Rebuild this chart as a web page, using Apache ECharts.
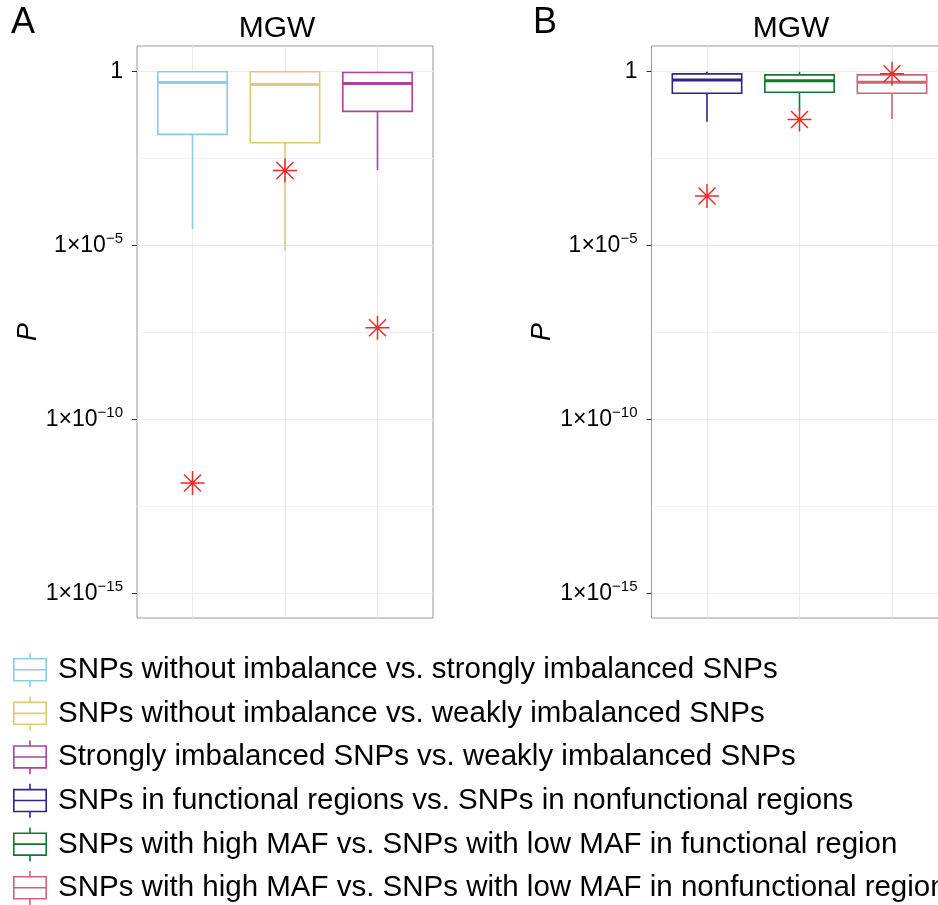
<!DOCTYPE html>
<html>
<head>
<meta charset="utf-8">
<script src="https://cdn.jsdelivr.net/npm/echarts@6/dist/echarts.min.js"></script>
<style>
html,body{margin:0;padding:0;background:#fff;}
#chart{width:938px;height:905px;}
</style>
</head>
<body>
<div id="chart"></div>
<script>
// ---- data (values are log10(P)) ----
const seriesNames = [
  'SNPs without imbalance vs. strongly imbalanced SNPs',
  'SNPs without imbalance vs. weakly imbalanced SNPs',
  'Strongly imbalanced SNPs vs. weakly imbalanced SNPs',
  'SNPs in functional regions vs. SNPs in nonfunctional regions',
  'SNPs with high MAF vs. SNPs with low MAF in functional region',
  'SNPs with high MAF vs. SNPs with low MAF in nonfunctional region'
];
const seriesColors = ['#88CCEE', '#DDCC77', '#AA4499', '#332288', '#117733', '#CC6677'];
const xPositions = [1, 2, 3];

// Panel A
const lowerWhiskerA = [-4.52, -5.14, -2.83];
const q1A = [-1.80, -2.04, -1.14];
const medianA = [-0.31, -0.37, -0.34];
const q3A = [0, 0, -0.02];
const upperWhiskerA = [0, 0, 0];
const starsA = [-11.82, -2.84, -7.36];

// Panel B
const lowerWhiskerB = [-1.44, -1.11, -1.36];
const q1B = [-0.62, -0.59, -0.62];
const medianB = [-0.24, -0.26, -0.30];
const q3B = [-0.06, -0.09, -0.09];
const upperWhiskerB = [0, 0, -0.02];
const starsB = [-3.57, -1.37, -0.06];

const tickValues = [0, -5, -10, -15];
const minorTickValues = [-2.5, -7.5, -12.5];
const panelTitles = ['MGW', 'MGW'];
const panelLetters = ['A', 'B'];

// ---- layout / style ----
const FONT = 'Liberation Sans, Arial, Helvetica, sans-serif';
const yMin = -15.70, yMax = 0.74;
const boxWidthUnits = 0.75;
const grids = [
  {left: 137, top: 46, width: 296, height: 572},
  {left: 651.5, top: 46, width: 296, height: 572}
];

function fmtTick(v) {
  if (v === 0) return '{a|1}';
  return '{a|1×10}{b|\u2212' + Math.abs(v) + '}';
}

function renderBox(params, api) {
  const x = api.value(0);
  const wl = api.coord([x, api.value(1)]);
  const q1 = api.coord([x, api.value(2)]);
  const md = api.coord([x, api.value(3)]);
  const q3 = api.coord([x, api.value(4)]);
  const wh = api.coord([x, api.value(5)]);
  const hw = api.size([boxWidthUnits, 0])[0] / 2;
  const color = api.visual('color');
  const lw = 1.6;
  return {
    type: 'group',
    children: [
      {type: 'line', shape: {x1: wl[0], y1: wl[1], x2: q1[0], y2: q1[1]}, style: {stroke: color, lineWidth: lw}},
      {type: 'line', shape: {x1: q3[0], y1: q3[1], x2: wh[0], y2: wh[1]}, style: {stroke: color, lineWidth: lw}},
      {type: 'rect', shape: {x: q1[0] - hw, y: q3[1], width: 2 * hw, height: q1[1] - q3[1]},
        style: {fill: '#ffffff', stroke: color, lineWidth: lw}},
      {type: 'line', shape: {x1: md[0] - hw, y1: md[1], x2: md[0] + hw, y2: md[1]}, style: {stroke: color, lineWidth: 3}}
    ]
  };
}

// legend glyph: box with median and whiskers, as filled thin strokes
const t = 1.6;
const boxIcon = 'path://' +
  'M0,5 L34,5 L34,28.5 L0,28.5 Z ' +
  'M' + t + ',' + (5 + t) + ' L' + t + ',' + (16.75 - t / 2) + ' L' + (34 - t) + ',' + (16.75 - t / 2) + ' L' + (34 - t) + ',' + (5 + t) + ' Z ' +
  'M' + t + ',' + (16.75 + t / 2) + ' L' + t + ',' + (28.5 - t) + ' L' + (34 - t) + ',' + (28.5 - t) + ' L' + (34 - t) + ',' + (16.75 + t / 2) + ' Z ' +
  'M' + (17 - t / 2) + ',0 L' + (17 + t / 2) + ',0 L' + (17 + t / 2) + ',5 L' + (17 - t / 2) + ',5 Z ' +
  'M' + (17 - t / 2) + ',28.5 L' + (17 + t / 2) + ',28.5 L' + (17 + t / 2) + ',34 L' + (17 - t / 2) + ',34 Z';

const starPath = 'path://M12,0 L12,24 M0,12 L24,12 M3.5,3.5 L20.5,20.5 M3.5,20.5 L20.5,3.5';

const xAxes = [], yAxes = [];
grids.forEach(function (g, gi) {
  xAxes.push({
    type: 'value', gridIndex: gi, min: 0.4, max: 3.6,
    axisLine: {show: false},
    axisTick: {show: false, customValues: xPositions},
    axisLabel: {show: false},
    splitLine: {show: true, lineStyle: {color: '#EBEBEB', width: 1}}
  });
  yAxes.push({
    type: 'value', gridIndex: gi, min: yMin, max: yMax, position: 'left',
    name: 'P', nameLocation: 'middle', nameGap: 93,
    nameTextStyle: {fontFamily: FONT, fontSize: 27, fontStyle: 'italic', color: '#000'},
    axisLine: {show: false},
    axisTick: {show: true, inside: false, length: 5, customValues: tickValues, lineStyle: {color: '#333', width: 1}},
    axisLabel: {
      show: true, margin: 14, customValues: tickValues, formatter: fmtTick,
      rich: {
        a: {fontFamily: FONT, fontSize: 23, color: '#000', lineHeight: 29},
        b: {fontFamily: FONT, fontSize: 15, color: '#000', verticalAlign: 'top', lineHeight: 15}
      }
    },
    splitLine: {show: true, lineStyle: {color: '#EBEBEB', width: 1}}
  });
  yAxes.push({
    type: 'value', gridIndex: gi, min: yMin, max: yMax, position: 'left',
    axisLine: {show: false},
    axisTick: {show: false, customValues: minorTickValues},
    axisLabel: {show: false},
    splitLine: {show: true, lineStyle: {color: '#F3F3F3', width: 1}}
  });
});

const series = [];
const panelStats = [
  [lowerWhiskerA, q1A, medianA, q3A, upperWhiskerA],
  [lowerWhiskerB, q1B, medianB, q3B, upperWhiskerB]
];
const panelStars = [starsA, starsB];
for (let p = 0; p < 2; p++) {
  const st = panelStats[p];
  for (let i = 0; i < 3; i++) {
    const si = p * 3 + i;
    series.push({
      type: 'custom',
      name: seriesNames[si],
      xAxisIndex: p, yAxisIndex: p * 2,
      itemStyle: {color: seriesColors[si]},
      encode: {x: 0, y: [1, 2, 3, 4, 5]},
      data: [[xPositions[i], st[0][i], st[1][i], st[2][i], st[3][i], st[4][i]]],
      renderItem: renderBox,
      silent: true
    });
  }
  series.push({
    type: 'scatter',
    name: 'stars' + p,
    xAxisIndex: p, yAxisIndex: p * 2,
    symbol: starPath, symbolSize: 24,
    itemStyle: {color: 'rgba(0,0,0,0)', borderColor: '#F02A2A', borderWidth: 1.5, opacity: 1},
    data: xPositions.map(function (x, i) { return [x, panelStars[p][i]]; }),
    silent: true, z: 5
  });
}

const chart = echarts.init(document.getElementById('chart'), null, {renderer: 'canvas'});
chart.setOption({
  backgroundColor: '#ffffff',
  animation: false,
  grid: grids.map(function (g) {
    return Object.assign({show: true, backgroundColor: '#ffffff', borderColor: '#999999', borderWidth: 1,
      containLabel: false, outerBoundsMode: 'none'}, g);
  }),
  xAxis: xAxes,
  yAxis: yAxes,
  legend: {
    orient: 'vertical', left: 13, top: 653, padding: 0,
    itemWidth: 34, itemHeight: 34, itemGap: 9.6,
    selectedMode: false,
    data: seriesNames.map(function (n, i) {
      return {name: n, icon: boxIcon, itemStyle: {color: seriesColors[i], borderWidth: 0}};
    }),
    textStyle: {fontFamily: FONT, fontSize: 29.5, color: '#000', padding: [0, 0, 0, 6]}
  },
  graphic: [
    {type: 'text', x: 11, y: 23, style: {text: panelLetters[0], font: '36px ' + FONT, fill: '#000', textAlign: 'left', textVerticalAlign: 'middle'}},
    {type: 'text', x: 533, y: 23, style: {text: panelLetters[1], font: '36px ' + FONT, fill: '#000', textAlign: 'left', textVerticalAlign: 'middle'}},
    {type: 'text', x: 277, y: 29, style: {text: panelTitles[0], font: '30px ' + FONT, fill: '#000', textAlign: 'center', textVerticalAlign: 'middle'}},
    {type: 'text', x: 791, y: 29, style: {text: panelTitles[1], font: '30px ' + FONT, fill: '#000', textAlign: 'center', textVerticalAlign: 'middle'}}
  ],
  series: series
});
</script>
</body>
</html>
